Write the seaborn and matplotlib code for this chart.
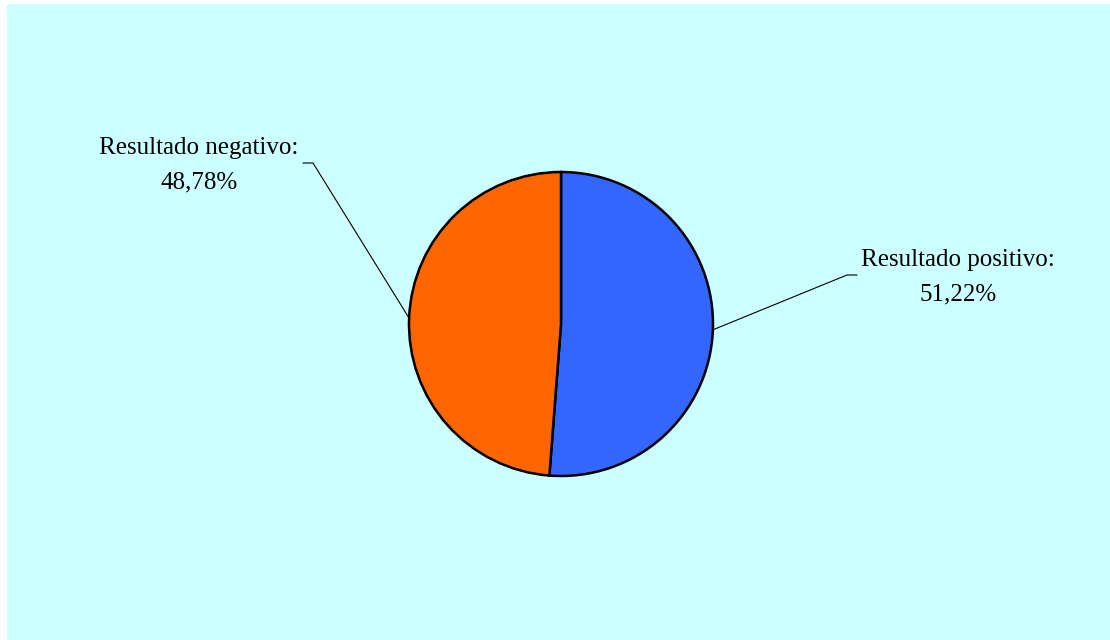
import matplotlib
matplotlib.use("Agg")
import matplotlib.pyplot as plt
import seaborn as sns
import numpy as np
from matplotlib.patches import Rectangle

categories = ["Resultado positivo", "Resultado negativo"]
values = [51.22, 48.78]
colors = ["#3366FF", "#FF6600"]

sns.set_theme(style="white")
plt.rcParams["font.family"] = ["Liberation Serif", "DejaVu Serif"]

W, H = 1110, 640
fig = plt.figure(figsize=(W / 100, H / 100), dpi=100)
fig.patch.set_facecolor("white")
ax = fig.add_axes([0, 0, 1, 1])
ax.set_xlim(0, W)
ax.set_ylim(0, H)
ax.set_aspect("equal")
ax.axis("off")

# chart area background
ax.add_patch(Rectangle((7, 0), W - 7, H - 4, facecolor="#CCFFFF", edgecolor="none", zorder=0))

cx, cy, r = 561, H - 324, 152
wedges, _ = ax.pie(values, colors=colors, startangle=90, counterclock=False,
                   center=(cx, cy), radius=r, frame=True,
                   wedgeprops=dict(edgecolor="black", linewidth=1.8))
ax.set_xlim(0, W)
ax.set_ylim(0, H)
ax.axis("off")

# label positions (text centre) and leader elbows, in pixel coords
label_pos = [(958, H - 277), (199, H - 165)]
elbows = [((857, H - 275), (847, H - 275)), ((303, H - 163), (313, H - 163))]

for w, cat, val, (tx, ty), (e0, e1) in zip(wedges, categories, values, label_pos, elbows):
    ang = np.deg2rad((w.theta1 + w.theta2) / 2)
    px, py = cx + r * np.cos(ang), cy + r * np.sin(ang)
    ax.plot([e0[0], e1[0], px], [e0[1], e1[1], py], color="black", lw=0.8, zorder=1)
    txt = f"{cat}:\n" + f"{val:.2f}".replace(".", ",") + "%"
    ax.text(tx, ty, txt, ha="center", va="center", fontsize=18, color="black",
            linespacing=1.75, multialignment="center")

fig.savefig("out.png", dpi=100, facecolor=fig.get_facecolor())
